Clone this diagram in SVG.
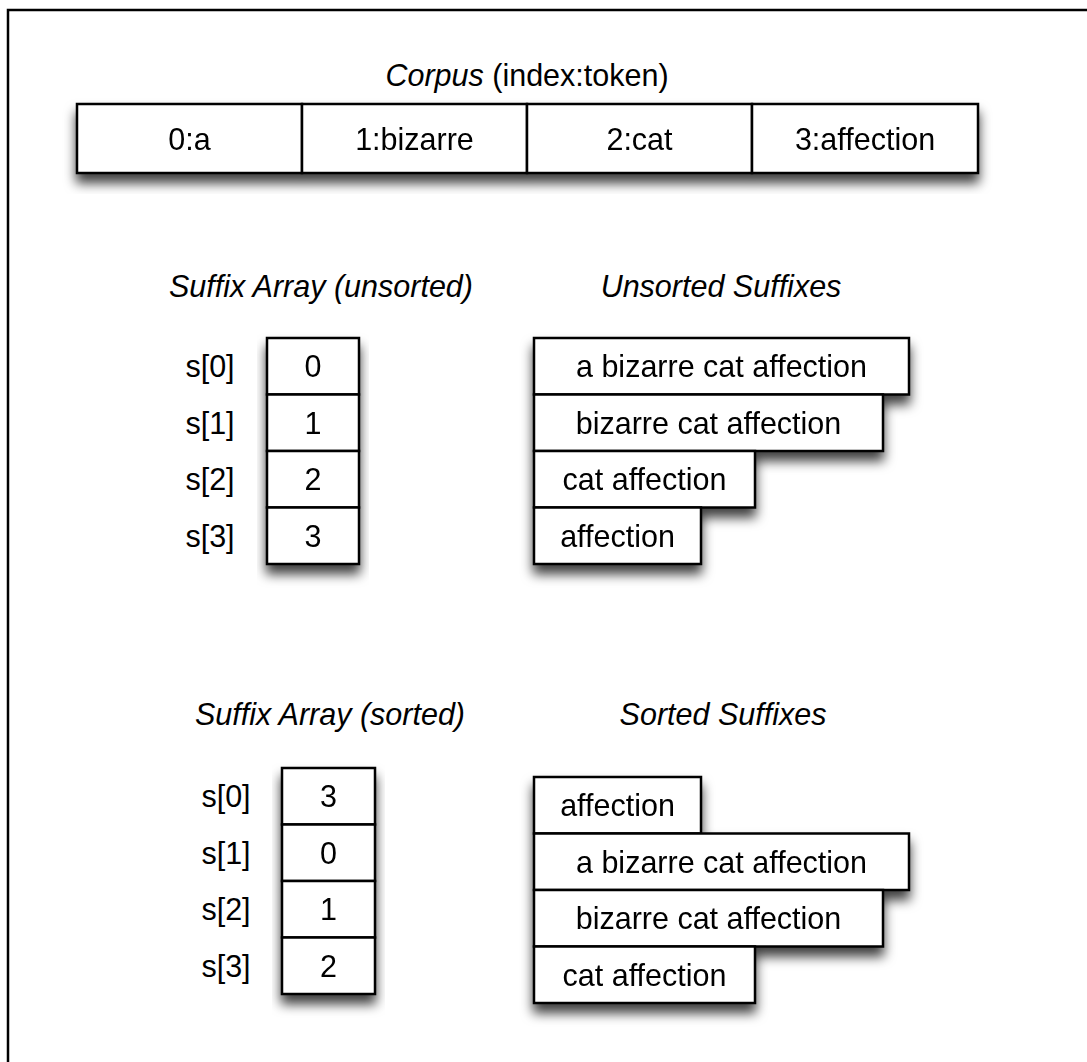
<svg xmlns="http://www.w3.org/2000/svg" width="1087" height="1062" viewBox="0 0 1087 1062">
  <defs>
    <filter id="shadow" x="-10%" y="-10%" width="120%" height="140%">
      <feDropShadow dx="0" dy="9" stdDeviation="6" flood-color="#000" flood-opacity="0.75"/>
    </filter>
  </defs>
  <style>
    text { font-family: "Liberation Sans", Arial, Helvetica, sans-serif; font-size: 30.5px; fill: #000; text-anchor: middle; }
    .title { font-style: italic; }
    .cell { fill: #fff; stroke: #000; stroke-width: 2.5; }
    .frame { fill: none; stroke: #000; stroke-width: 2.5; }
  </style>
  <rect width="1087" height="1062" fill="#fff"/>
  <path class="frame" d="M8,1062 V10 H1087"/>

  <!-- Titles -->
  <text x="527" y="86"><tspan font-style="italic">Corpus</tspan> (index:token)</text>
  <text class="title" x="321" y="297">Suffix Array (unsorted)</text>
  <text class="title" x="721" y="297">Unsorted Suffixes</text>
  <text class="title" x="330" y="725">Suffix Array (sorted)</text>
  <text class="title" x="723" y="725">Sorted Suffixes</text>

  <!-- Corpus -->
  <g id="corpus" filter="url(#shadow)">
    <g id="corpus-0"><rect class="cell" x="77" y="104" width="225" height="69"/><text x="189.5" y="150">0:a</text></g>
    <g id="corpus-1"><rect class="cell" x="302" y="104" width="225" height="69"/><text x="414.5" y="150">1:bizarre</text></g>
    <g id="corpus-2"><rect class="cell" x="527" y="104" width="225" height="69"/><text x="639.5" y="150">2:cat</text></g>
    <g id="corpus-3"><rect class="cell" x="752" y="104" width="226" height="69"/><text x="865" y="150">3:affection</text></g>
  </g>

  <!-- Unsorted suffix array -->
  <g id="sa-unsorted-labels">
    <text x="210" y="377">s[0]</text>
    <text x="210" y="433.5">s[1]</text>
    <text x="210" y="490">s[2]</text>
    <text x="210" y="546.5">s[3]</text>
  </g>
  <g id="sa-unsorted" filter="url(#shadow)">
    <g id="sa-u-0"><rect class="cell" x="267" y="338" width="92" height="56.5"/><text x="313" y="377">0</text></g>
    <g id="sa-u-1"><rect class="cell" x="267" y="394.5" width="92" height="56.5"/><text x="313" y="433.5">1</text></g>
    <g id="sa-u-2"><rect class="cell" x="267" y="451" width="92" height="56.5"/><text x="313" y="490">2</text></g>
    <g id="sa-u-3"><rect class="cell" x="267" y="507.5" width="92" height="56.5"/><text x="313" y="546.5">3</text></g>
  </g>

  <!-- Unsorted suffixes -->
  <g id="suffixes-unsorted" filter="url(#shadow)">
    <g id="suf-u-0"><rect class="cell" x="534" y="338" width="375" height="56.5"/><text x="721.5" y="377">a bizarre cat affection</text></g>
    <g id="suf-u-1"><rect class="cell" x="534" y="394.5" width="349" height="56.5"/><text x="708.5" y="433.5">bizarre cat affection</text></g>
    <g id="suf-u-2"><rect class="cell" x="534" y="451" width="221" height="56.5"/><text x="644.5" y="490">cat affection</text></g>
    <g id="suf-u-3"><rect class="cell" x="534" y="507.5" width="167" height="56.5"/><text x="617.5" y="546.5">affection</text></g>
  </g>

  <!-- Sorted suffix array -->
  <g id="sa-sorted-labels">
    <text x="226" y="807">s[0]</text>
    <text x="226" y="863.5">s[1]</text>
    <text x="226" y="920">s[2]</text>
    <text x="226" y="976.5">s[3]</text>
  </g>
  <g id="sa-sorted" filter="url(#shadow)">
    <g id="sa-s-0"><rect class="cell" x="282" y="768" width="93" height="56.5"/><text x="328.5" y="807">3</text></g>
    <g id="sa-s-1"><rect class="cell" x="282" y="824.5" width="93" height="56.5"/><text x="328.5" y="863.5">0</text></g>
    <g id="sa-s-2"><rect class="cell" x="282" y="881" width="93" height="56.5"/><text x="328.5" y="920">1</text></g>
    <g id="sa-s-3"><rect class="cell" x="282" y="937.5" width="93" height="56.5"/><text x="328.5" y="976.5">2</text></g>
  </g>

  <!-- Sorted suffixes -->
  <g id="suffixes-sorted" filter="url(#shadow)">
    <g id="suf-s-0"><rect class="cell" x="534" y="777" width="167" height="56.5"/><text x="617.5" y="816">affection</text></g>
    <g id="suf-s-1"><rect class="cell" x="534" y="833.5" width="375" height="56.5"/><text x="721.5" y="872.5">a bizarre cat affection</text></g>
    <g id="suf-s-2"><rect class="cell" x="534" y="890" width="349" height="56.5"/><text x="708.5" y="929">bizarre cat affection</text></g>
    <g id="suf-s-3"><rect class="cell" x="534" y="946.5" width="221" height="56.5"/><text x="644.5" y="985.5">cat affection</text></g>
  </g>

  <g id="connectors"/>
</svg>
